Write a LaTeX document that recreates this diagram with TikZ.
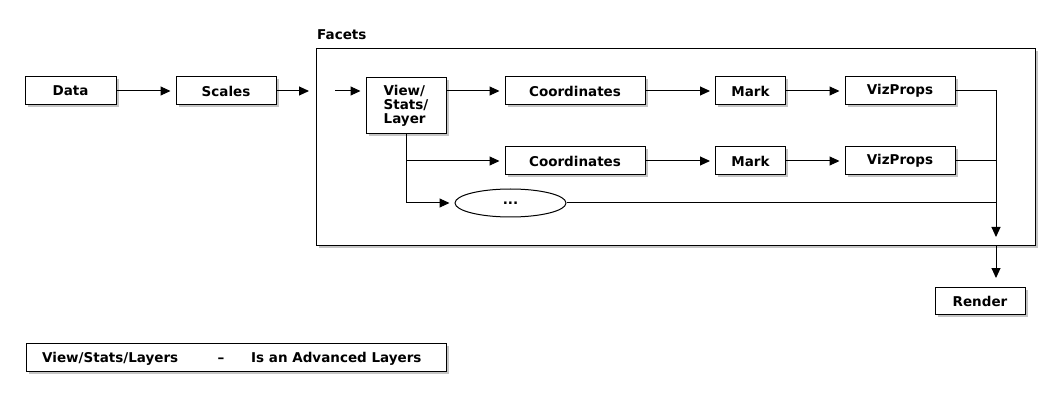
\documentclass[tikz,border=0pt]{standalone}
\usepackage{fontspec}
\setmainfont{DejaVu Sans}
\usetikzlibrary{arrows.meta,shadows,shapes.geometric}
\begin{document}
\begin{tikzpicture}[x=1pt,y=-1pt,
  txt/.style={font=\bfseries\fontsize{13.5}{14}\selectfont, inner sep=0pt},
  box/.style={draw, fill=white, line width=1pt, minimum height=28pt, inner sep=0pt,
    font=\bfseries\fontsize{13.5}{14}\selectfont,
    drop shadow={shadow xshift=2.5pt, shadow yshift=-2.5pt, fill=black!45}},
  conn/.style={line width=1pt, -{Triangle[length=10pt,width=9pt]}, shorten >=5pt},
  plain/.style={line width=1pt}]
\useasboundingbox (0,0) rectangle (1060,406);
\fill[white] (0,0) rectangle (1060,406);
% facets frame
\node[box, minimum width=719pt, minimum height=196pt] (facets) at (675.5,147) {};
\node[txt, anchor=base west] (flabel) at (317,40) {Facets};
% top row
\node[box, minimum width=91pt] (data) at (70.5,91) {Data};
\node[box, minimum width=100pt] (scales) at (226,91) {Scales};
\node[box, minimum width=80pt, minimum height=56pt, align=left, anchor=north west] (view) at (365.5,77) {View/\\Stats/\\Layer};
\node[box, minimum width=140pt] (coord1) at (575,91) {Coordinates};
\node[box, minimum width=70pt] (mark1) at (750.5,91) {Mark};
\node[box, minimum width=110pt] (viz1) at (900,91) {VizProps};
% second row
\node[box, minimum width=140pt] (coord2) at (575,161) {Coordinates};
\node[box, minimum width=70pt] (mark2) at (750.5,161) {Mark};
\node[box, minimum width=110pt] (viz2) at (900,161) {VizProps};
% ellipse
\node[draw, fill=white, line width=1pt, ellipse, minimum width=111pt, minimum height=28pt, inner sep=0pt,
  font=\bfseries\fontsize{13.5}{14}\selectfont] (ell) at (510.5,203) {...};
% render
\node[box, minimum width=90pt, minimum height=27pt] (render) at (980,301) {Render};
% legend
\node[box, minimum width=420pt] (legend) at (236,357) {};
\node[txt, anchor=base west] (lg1) at (42,362) {View/Stats/Layers};
\node[txt, anchor=base] (lg2) at (221,362) {--};
\node[txt, anchor=base west] (lg3) at (251,362) {Is an Advanced Layers};
% coordinates
\coordinate (sc) at (309,91);
\coordinate (fin) at (335,91);
\coordinate (ctop) at (996,91);
\coordinate (cbot) at (996,237);
\coordinate (rtip) at (996,278);
% connectors
\draw[conn] (data) -- (scales);
\draw[conn, shorten >=0pt] (scales) -- (sc);
\draw[conn] (fin) -- (fin -| view.west);
\draw[conn] (view.east |- coord1) -- (coord1);
\draw[conn] (coord1) -- (mark1);
\draw[conn] (mark1) -- (viz1);
\draw[conn] (view.south |- coord2) -- (coord2);
\draw[conn] (coord2) -- (mark2);
\draw[conn] (mark2) -- (viz2);
\draw[conn] (view.south) -- (view.south |- ell) -- (ell);
\draw[conn, shorten >=0pt] (viz1) -- (ctop) -- (cbot);
\draw[plain] (viz2) -- (viz2 -| ctop);
\draw[plain] (ell) -- (ell -| ctop);
\draw[conn, shorten >=0pt] (facets.south -| ctop) -- (rtip);
\end{tikzpicture}
\end{document}
